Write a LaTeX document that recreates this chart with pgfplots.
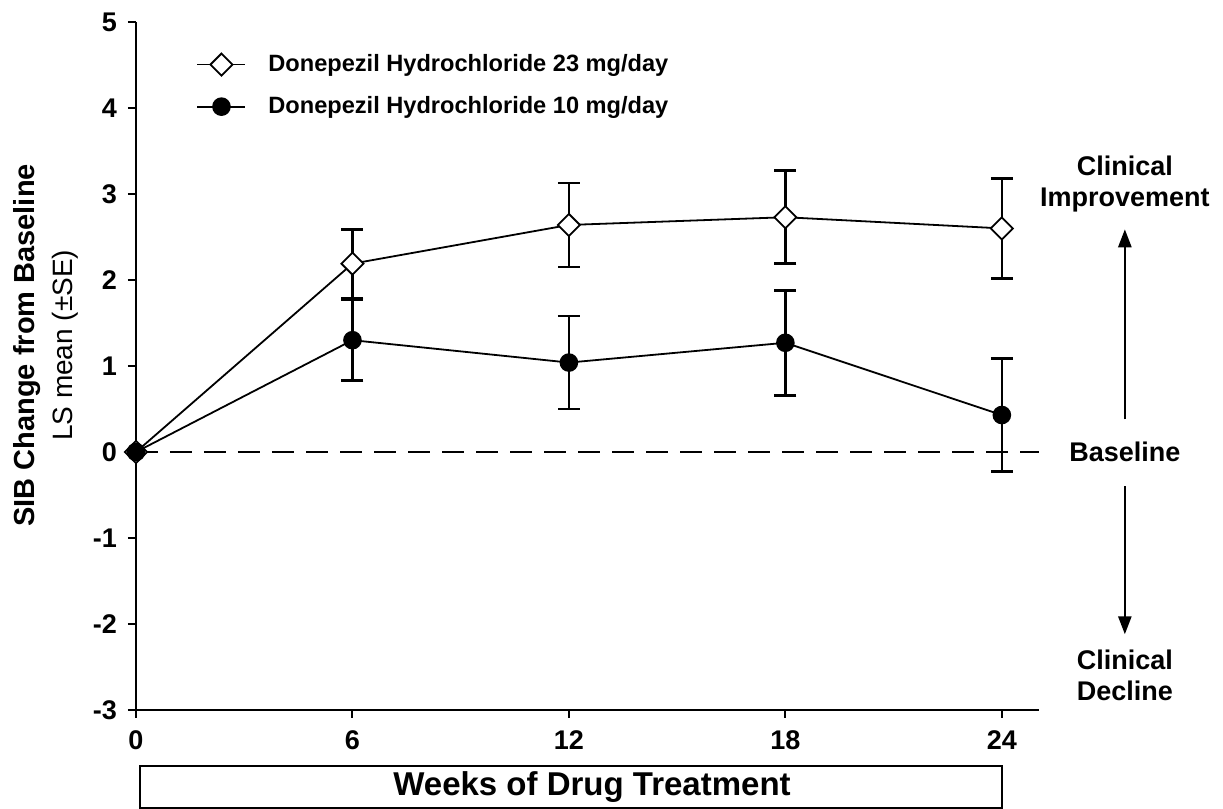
\documentclass[border=0pt]{standalone}
\usepackage{fontspec}
\setmainfont{Liberation Sans}
\usepackage{pgfplots}
\usepackage{pgfplotstable}
\pgfplotsset{compat=1.18}
\usetikzlibrary{arrows.meta}

\pgfplotstableread{
x y e
0 0 0
6 2.19 0.40
12 2.64 0.49
18 2.73 0.54
24 2.60 0.58
}\highdose
\pgfplotstableread{
x y e
0 0 0
6 1.30 0.47
12 1.04 0.54
18 1.27 0.61
24 0.43 0.66
}\lowdose
\pgfplotstableread{
x y e
6 2.19 0.40
12 2.64 0.49
18 2.73 0.54
24 2.60 0.58
}\highdoseerr
\pgfplotstableread{
x y e
6 1.30 0.47
12 1.04 0.54
18 1.27 0.61
24 0.43 0.66
}\lowdoseerr

\begin{document}
\begin{tikzpicture}[x=1pt,y=1pt]
\useasboundingbox (0,0) rectangle (611.5,404.5);
\begin{axis}[
  at={(68pt,49.5pt)}, anchor=south west,
  scale only axis, width=451.5pt, height=344pt,
  xmin=0, xmax=25.03, ymin=-3, ymax=5,
  axis x line*=bottom, axis y line*=left,
  axis line style={line width=1.3pt},
  xtick={0,6,12,18,24}, xticklabels={0,6,12,18,24},
  ytick={-3,-2,-1,0,1,2,3,4,5},
  yticklabels={-3,-2,-1,0,1,2,3,4,5},
  tick align=outside, major tick length=4pt,
  tick style={line width=1pt, black},
  tick label style={font=\bfseries\fontsize{13.5}{15}\selectfont},
  xticklabel style={yshift=-3pt},
  yticklabel style={xshift=-2pt},
  clip=false,
  ylabel={{\bfseries\fontsize{14.5}{17}\selectfont SIB Change from Baseline}\\[5pt]{\fontsize{14}{16}\selectfont LS mean (\textpm SE)}},
  ylabel style={align=center, at={(axis description cs:-0.1,0.53)}, anchor=center},
  legend style={draw=none, fill=none, at={(axis description cs:0.06,0.965)}, anchor=north west,
    font=\bfseries\fontsize{11.8}{13}\selectfont, row sep=7pt},
  legend cell align=left,
  legend image code/.code={\draw[mark repeat=2,mark phase=2,#1] plot coordinates {(0pt,0pt) (12pt,0pt) (24pt,0pt)};},
]
% baseline
\addplot[forget plot, black, line width=0.8pt, dash pattern=on 11pt off 6pt] coordinates {(0,0) (25.03,0)};
% error bars
\addplot[forget plot, black, only marks, mark=none,
  error bars/.cd, y dir=both, y explicit,
  error bar style={line width=1.3pt, solid},
  error mark options={rotate=90, mark size=5.5pt, line width=1.3pt}]
  table[x=x, y=y, y error=e] {\highdoseerr};
\addplot[forget plot, black, only marks, mark=none,
  error bars/.cd, y dir=both, y explicit,
  error bar style={line width=1.3pt, solid},
  error mark options={rotate=90, mark size=5.5pt, line width=1.3pt}]
  table[x=x, y=y, y error=e] {\lowdoseerr};
% lines
\addplot[black, line width=0.9pt, mark=square*, mark size=3.9pt,
  mark options={fill=white, rotate=45, line width=0.9pt, solid}]
  table[x=x, y=y] {\highdose};
\addlegendentry{\hspace{9pt}Donepezil Hydrochloride 23 mg/day}
\addplot[black, line width=0.9pt, mark=*, mark size=4.2pt,
  mark options={fill=black, solid}]
  table[x=x, y=y] {\lowdose};
\addlegendentry{\hspace{9pt}Donepezil Hydrochloride 10 mg/day}
% right-side annotations
\node[align=center, font=\bfseries\fontsize{13.5}{15.5}\selectfont] at (axis cs:27.41,3.12) {Clinical\\Improvement};
\draw[line width=1.3pt, -{Triangle[length=9pt, width=6.5pt]}] (axis cs:27.41,0.38) -- (axis cs:27.41,2.59);
\node[font=\bfseries\fontsize{13.5}{15.5}\selectfont] at (axis cs:27.41,0) {Baseline};
\draw[line width=1.3pt, -{Triangle[length=9pt, width=6.5pt]}] (axis cs:27.41,-0.40) -- (axis cs:27.41,-2.12);
\node[align=center, font=\bfseries\fontsize{13.5}{15.5}\selectfont] at (axis cs:27.41,-2.60) {Clinical\\Decline};
% x label box
\draw[line width=1.3pt] (axis cs:0.11,-3.65) rectangle (axis cs:24.0,-4.14);
\node[font=\bfseries\fontsize{16.5}{19}\selectfont] at (axis cs:12.64,-3.895) {Weeks of Drug Treatment};
\end{axis}
\end{tikzpicture}
\end{document}
